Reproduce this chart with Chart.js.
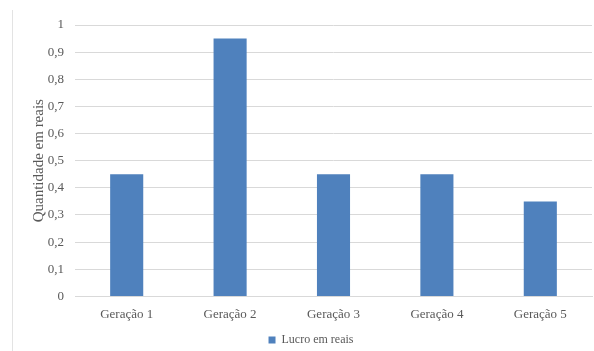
<!DOCTYPE html>
<html>
<head>
<meta charset="utf-8">
<script src="https://cdn.jsdelivr.net/npm/chart.js@4/dist/chart.umd.min.js"></script>
<style>
  html, body { margin: 0; padding: 0; background: #fff; }
  #wrap { position: relative; width: 594px; height: 351px; overflow: hidden; }
  #edge { position: absolute; left: 12px; top: 10px; width: 1px; height: 341px; background: #e3e3e3; }
  canvas { position: absolute; left: 0; top: 0; }
</style>
</head>
<body>
<div id="wrap">
  <div id="edge"></div>
  <canvas id="c" width="594" height="356"></canvas>
</div>
<script>
const categories = ['Geração 1', 'Geração 2', 'Geração 3', 'Geração 4', 'Geração 5'];
const lucro = [0.45, 0.95, 0.45, 0.45, 0.35];
const yTicks = [0, 0.1, 0.2, 0.3, 0.4, 0.5, 0.6, 0.7, 0.8, 0.9, 1];

const fontFamily = '"Liberation Serif", "Times New Roman", serif';
const textColor = '#595959';
Chart.defaults.font.family = fontFamily;
Chart.defaults.color = textColor;

new Chart(document.getElementById('c'), {
  type: 'bar',
  data: {
    labels: categories,
    datasets: [{
      label: 'Lucro em reais',
      data: lucro,
      backgroundColor: '#4f81bd',
      borderWidth: 0,
      categoryPercentage: 1,
      barPercentage: 0.32
    }]
  },
  options: {
    responsive: false,
    animation: false,
    layout: { padding: { left: 30, right: 2, top: 25, bottom: 0 } },
    plugins: {
      legend: {
        position: 'bottom',
        labels: {
          font: { family: fontFamily, size: 12 },
          color: textColor,
          boxWidth: 7,
          boxHeight: 7,
          padding: 2
        }
      },
      tooltip: { enabled: false }
    },
    scales: {
      x: {
        grid: { display: false, drawTicks: false },
        border: { color: '#d9d9d9' },
        ticks: {
          font: { family: fontFamily, size: 13 },
          color: textColor,
          padding: 10
        }
      },
      y: {
        min: 0,
        max: 1,
        afterBuildTicks: (axis) => { axis.ticks = yTicks.map(v => ({ value: v })); },
        afterFit: (axis) => { axis.width = 45; },
        grid: { color: '#d9d9d9', drawTicks: false },
        border: { display: false },
        ticks: {
          font: { family: fontFamily, size: 13 },
          color: textColor,
          padding: 11,
          callback: (v) => String(v).replace('.', ',')
        },
        title: {
          display: true,
          text: 'Quantidade em reais',
          font: { family: fontFamily, size: 15 },
          color: textColor,
          padding: { top: 0, bottom: 0 }
        }
      }
    }
  }
});
</script>
</body>
</html>
